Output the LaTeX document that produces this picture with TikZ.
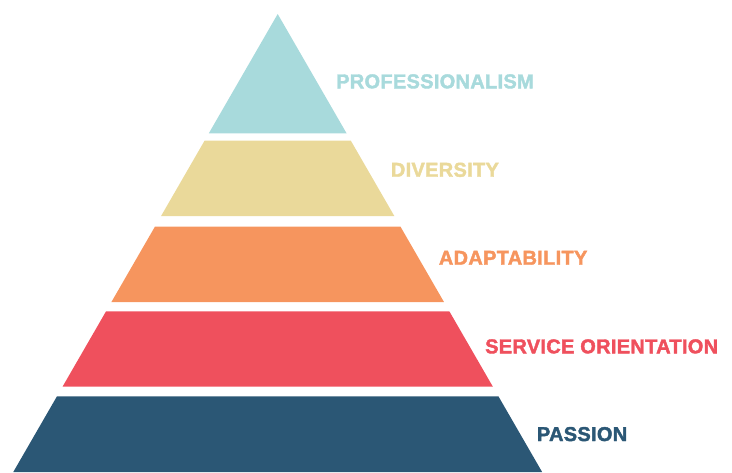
\documentclass[tikz,border=0pt]{standalone}
\usepackage{fontspec}
\setmainfont{Liberation Sans}[BoldFeatures={FakeBold=2,LetterSpace=1.5}]
\definecolor{cTeal}{HTML}{A8DADC}
\definecolor{cYellow}{HTML}{EAD99A}
\definecolor{cOrange}{HTML}{F6955E}
\definecolor{cRed}{HTML}{EF505D}
\definecolor{cBlue}{HTML}{2B5775}
\tikzset{lbl/.style={anchor=base west, inner sep=0pt, font=\fontsize{20}{21}\selectfont\bfseries}}
\begin{document}
\begin{tikzpicture}[x=1pt,y=-1pt]
\useasboundingbox (0,0) rectangle (732,472);
\def\cx{277.7}
\def\ap{14}
\def\tn{0.57735}
% layers
\foreach \yt/\yb/\col in {14/133.3/cTeal,140.7/216/cYellow,226.7/302/cOrange,311.3/386.7/cRed,396.3/472/cBlue}{
  \pgfmathsetmacro\ht{(\yt-\ap)*\tn}
  \pgfmathsetmacro\hb{(\yb-\ap)*\tn}
  \fill[\col] (\cx-\ht,\yt) -- (\cx+\ht,\yt) -- (\cx+\hb,\yb) -- (\cx-\hb,\yb) -- cycle;
}
\node[lbl, text=cTeal] (prof) at (336,88.3) {PROFESSIONALISM};
\node[lbl, text=cYellow] (div) at (390.7,176.7) {DIVERSITY};
\node[lbl, text=cOrange] (adap) at (438.7,264.7) {ADAPTABILITY};
\node[lbl, text=cRed] (serv) at (485,353.3) {SERVICE ORIENTATION};
\node[lbl, text=cBlue] (pass) at (536.7,441) {PASSION};
\end{tikzpicture}
\end{document}
